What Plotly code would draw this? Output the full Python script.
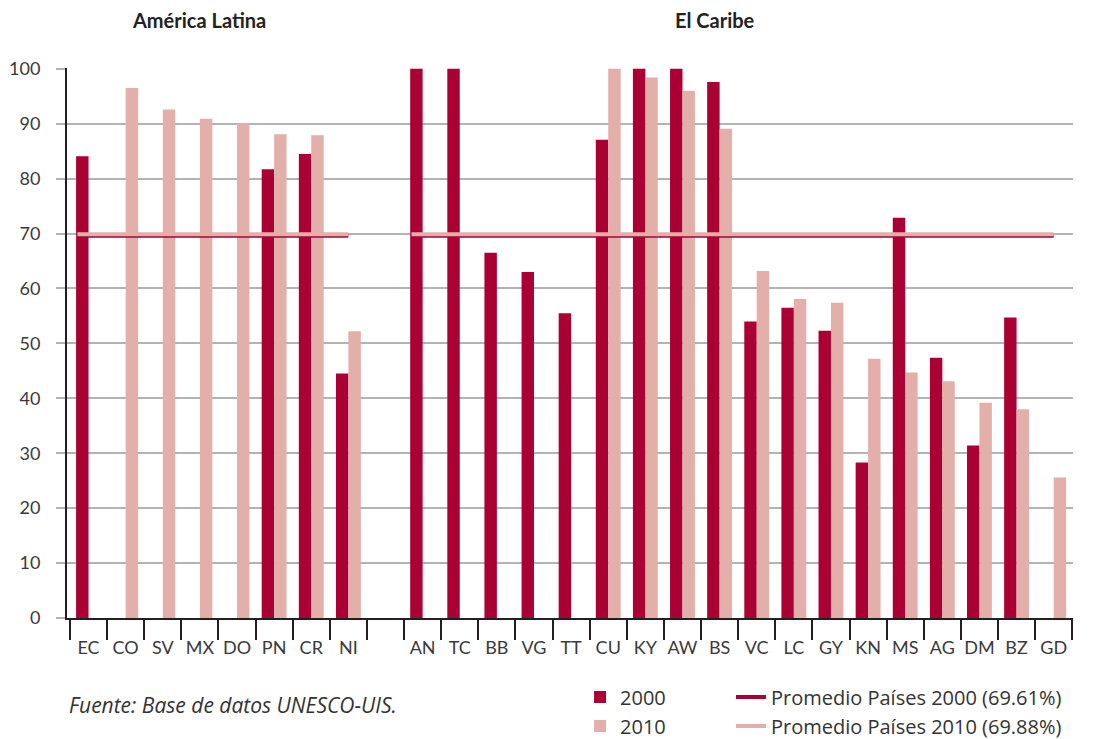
import plotly.graph_objects as go

categories = ["EC", "CO", "SV", "MX", "DO", "PN", "CR", "NI", "",
              "AN", "TC", "BB", "VG", "TT", "CU", "KY", "AW", "BS", "VC",
              "LC", "GY", "KN", "MS", "AG", "DM", "BZ", "GD"]

values_2000 = [84.1, None, None, None, None, 81.7, 84.5, 44.5, None,
               100, 100, 66.5, 63.0, 55.5, 87.1, 100, 100, 97.6, 54.0,
               56.5, 52.3, 28.3, 72.9, 47.4, 31.4, 54.7, None]

values_2010 = [None, 96.5, 92.6, 90.9, 90.1, 88.1, 87.9, 52.2, None,
               None, None, None, None, None, 100, 98.4, 96.0, 89.1, 63.2,
               58.1, 57.4, 47.2, 44.7, 43.1, 39.2, 38.0, 25.6]

avg_2000 = 69.61
avg_2010 = 69.88

group_titles = ["América Latina", "El Caribe"]
latin_america = categories[:8]
caribbean = categories[9:]

DARK = "#AB0034"
PINK = "#E3AFA9"
GRID = "#b3b3b3"
AXIS = "#231f20"
TEXT = "#333333"

x_idx = list(range(len(categories)))


def segments(groups, value):
    xs, ys = [], []
    for g in groups:
        i0 = categories.index(g[0])
        i1 = categories.index(g[-1])
        xs += [i0 - 0.3, i1, None]
        ys += [value, value, None]
    return xs, ys


fig = go.Figure()
fig.add_trace(go.Bar(x=x_idx, y=values_2000, name="2000", marker_color=DARK,
                     marker_line_width=0, legend="legend"))
fig.add_trace(go.Bar(x=x_idx, y=values_2010, name="2010", marker_color=PINK,
                     marker_line_width=0, legend="legend"))

lx, ly = segments([latin_america, caribbean], avg_2000)
fig.add_trace(go.Scatter(x=lx, y=ly, mode="lines", name="Promedio Países 2000 (69.61%)",
                         line=dict(color=DARK, width=4), legend="legend2",
                         connectgaps=False))
lx, ly = segments([latin_america, caribbean], avg_2010)
fig.add_trace(go.Scatter(x=lx, y=ly, mode="lines", name="Promedio Países 2010 (69.88%)",
                         line=dict(color=PINK, width=4), legend="legend2",
                         connectgaps=False))

fig.update_layout(
    width=1093, height=739,
    margin=dict(l=67, r=20, t=68, b=121, autoexpand=False),
    plot_bgcolor="white", paper_bgcolor="white",
    barmode="group", bargap=0.33, bargroupgap=0,
    font=dict(family="Lato", color=TEXT),
    xaxis=dict(
        range=[-0.58, 26.52], tickmode="array", tickvals=x_idx, ticktext=categories,
        ticks="", showline=True, linecolor=AXIS, linewidth=2, showgrid=False,
        zeroline=False, tickfont=dict(size=18, color="#3a3a3a"), ticklabelstandoff=12,
        automargin=False,
        minor=dict(tickmode="array", tickvals=[i - 0.5 for i in range(len(categories) + 1)],
                   ticks="outside", ticklen=20, tickwidth=2, tickcolor=AXIS),
    ),
    yaxis=dict(
        range=[0, 100.15], tickmode="array", tickvals=list(range(0, 101, 10)),
        showline=True, linecolor=AXIS, linewidth=2, showgrid=True,
        gridcolor=GRID, gridwidth=2, zeroline=False, automargin=False,
        ticks="outside", ticklen=9, tickcolor=GRID, tickwidth=2,
        tickfont=dict(size=18, color="#3a3a3a"), ticklabelstandoff=12,
    ),
    legend=dict(x=0.51, y=-0.108, xanchor="left", yanchor="top",
                font=dict(size=20, color=TEXT, family="Open Sans"), tracegroupgap=0,
                bgcolor="rgba(0,0,0,0)"),
    legend2=dict(x=0.66, y=-0.108, xanchor="left", yanchor="top",
                 font=dict(size=20, color=TEXT, family="Open Sans"), tracegroupgap=0,
                 bgcolor="rgba(0,0,0,0)"),
    annotations=[
        dict(text="<b>" + group_titles[0] + "</b>", xref="paper", yref="paper",
             x=0.131, y=1.087, xanchor="center", yanchor="middle", showarrow=False,
             font=dict(size=20, color="#222222")),
        dict(text="<b>" + group_titles[1] + "</b>", xref="paper", yref="paper",
             x=0.644, y=1.087, xanchor="center", yanchor="middle", showarrow=False,
             font=dict(size=20, color="#222222")),
        dict(text="<i>Fuente: Base de datos UNESCO-UIS.</i>", xref="paper", yref="paper",
             x=0.0, y=-0.158, xanchor="left", yanchor="middle", showarrow=False,
             font=dict(size=21, color=TEXT, family="Open Sans")),
    ],
)

fig.write_html("out.html", config={"displayModeBar": False},
               post_script="document.body.style.margin='0px';")
